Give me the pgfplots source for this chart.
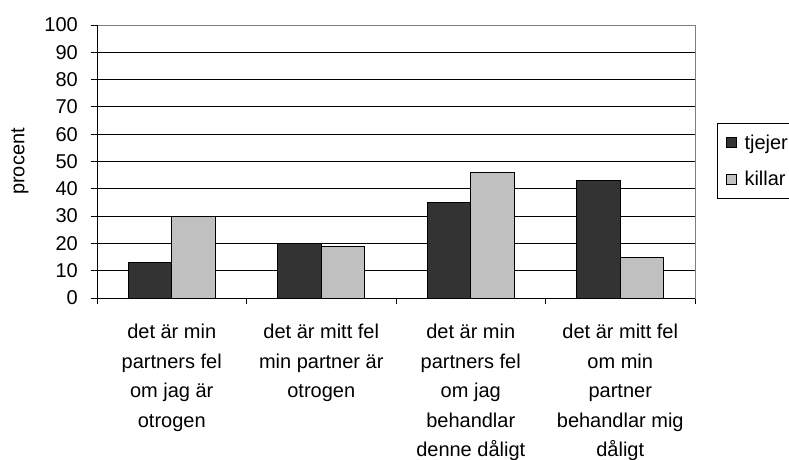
\documentclass[border=0pt]{standalone}
\usepackage{pgfplots}
\pgfplotsset{compat=1.18}
\usepackage{fontspec}
\setmainfont{Liberation Sans}
\definecolor{darkbar}{HTML}{333333}
\definecolor{lightbar}{HTML}{C0C0C0}
\begin{document}
\begin{tikzpicture}[x=1pt,y=1pt]
\useasboundingbox (0,0) rectangle (789,459);
\begin{axis}[
  at={(97pt,161pt)}, anchor=south west,
  scale only axis, width=598pt, height=273pt,
  xmin=-0.5, xmax=3.5, ymin=0, ymax=100,
  ytick={0,10,...,100},
  ymajorgrids, grid style={black, line width=1pt},
  xtick={-0.5,0.5,1.5,2.5,3.5},
  xticklabels={{det är min\\partners fel\\om jag är\\otrogen},
               {det är mitt fel\\min partner är\\otrogen},
               {det är min\\partners fel\\om jag\\behandlar\\denne dåligt},
               {det är mitt fel\\om min\\partner\\behandlar mig\\dåligt}},
  x tick label as interval,
  xtick pos=bottom, ytick pos=left,
  tick align=outside, major tick length=6pt,
  tick style={black, line width=1pt},
  axis line style={draw=gray, line width=1pt},
  tick label style={font=\fontsize{20}{29.5}\selectfont},
  /pgf/number format/assume math mode=true,
  xticklabel style={align=center, anchor=north, inner sep=0pt, yshift=-20pt},
  yticklabel style={anchor=east, inner sep=0pt, xshift=-13pt},
  ylabel={procent},
  ylabel style={font=\fontsize{20}{24}\selectfont, at={(axis description cs:-0.1288,0.5)}, anchor=center},
  ybar, bar width=0.29,
  legend style={at={(1.0368,0.641)}, anchor=north west, draw=black, line width=1pt,
    font=\fontsize{20}{24}\selectfont, cells={anchor=west}, row sep=17pt,
    inner xsep=8pt, inner ysep=9pt,
    /tikz/every odd column/.append style={column sep=6pt}},
  legend image code/.code={\draw[#1,draw=black,line width=1pt] (0pt,-5pt) rectangle (10pt,5pt);},
]
\addplot[fill=darkbar, draw=black, line width=1pt, bar shift=-0.145] coordinates {(0,13) (1,20) (2,35) (3,43)};
\addlegendentry{tjejer}
\addplot[fill=lightbar, draw=black, line width=1pt, bar shift=0.145] coordinates {(0,30) (1,19) (2,46) (3,15)};
\addlegendentry{killar}
\draw[black, line width=1pt] (rel axis cs:0,1) -- (rel axis cs:0,0) -- (rel axis cs:1,0);
\end{axis}
\end{tikzpicture}
\end{document}
